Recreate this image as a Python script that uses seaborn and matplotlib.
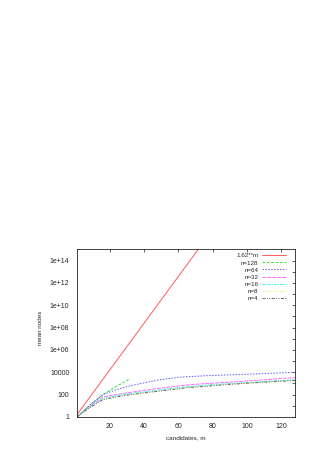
import numpy as np
import pandas as pd
import matplotlib
matplotlib.use("Agg")
import matplotlib.pyplot as plt
import matplotlib.ticker as mticker
import seaborn as sns

sns.set_style("white")
plt.rcParams['font.family'] = ['Liberation Sans', 'DejaVu Sans']

# values (mean nodes vs candidates m)
m_full = [1, 8, 16, 24, 32, 40, 48, 56, 64, 72, 80, 88, 96, 104, 112, 120, 128]
m_128 = [1, 8, 16, 24, 32]

ref_m = [1, 128]
ref_vals = [1.62, 6.6e26]          # 1.62**m at both ends (straight in log scale)

n128 = [1, 10, 100, 560, 2700]
n64 = [1, 10, 100, 280, 630, 1120, 2000, 3000, 4000, 4570, 5250, 5750, 6300, 7080, 7940, 8900, 9550]
n32 = [1, 8, 63, 100, 160, 240, 355, 500, 710, 890, 1070, 1260, 1510, 1860, 2240, 2820, 3310]
n16 = [1, 7, 45, 80, 126, 178, 250, 355, 500, 630, 790, 955, 1120, 1320, 1580, 1860, 2140]
n8 = [1, 6.3, 40, 66, 105, 150, 214, 302, 417, 537, 676, 851, 1000, 1200, 1410, 1660, 1900]
n4 = [1, 6.3, 35, 63, 100, 141, 200, 282, 398, 500, 630, 794, 955, 1150, 1350, 1580, 1820]

series = [
    ("1.62**m", ref_m, ref_vals, "#ff5a5a", "-"),
    ("n=128", m_128, n128, "#3ee03e", (0, (3, 1.5))),
    ("n=64", m_full, n64, "#5a5aff", (0, (1.5, 1.5))),
    ("n=32", m_full, n32, "#ff6aff", (0, (4, 1))),
    ("n=16", m_full, n16, "#3cf0f0", (0, (3, 1, 1, 1))),
    ("n=8", m_full, n8, "#e8e83c", (0, (1, 2))),
    ("n=4", m_full, n4, "#606060", (0, (3, 1.5, 1, 1.5, 1, 1.5))),
]

fig = plt.figure(figsize=(3.31, 4.68), dpi=100)
ax = fig.add_axes([0.2326, 0.109, 0.6586, 0.358])

for label, xs, ys, col, ls in series:
    df = pd.DataFrame({"m": xs, "nodes": ys})
    sns.lineplot(data=df, x="m", y="nodes", ax=ax, color=col, linestyle=ls,
                 linewidth=0.7, label=label)

ax.set_yscale("log")
ax.set_xlim(1, 128)
ax.set_ylim(1, 1e15)

ytick_vals = [1, 1e2, 1e4, 1e6, 1e8, 1e10, 1e12, 1e14]
ytick_labels = ["1", "100", "10000", "1e+06", "1e+08", "1e+10", "1e+12", "1e+14"]
ax.yaxis.set_major_locator(mticker.FixedLocator(ytick_vals))
ax.yaxis.set_major_formatter(mticker.FixedFormatter(ytick_labels))
ax.yaxis.set_minor_locator(mticker.FixedLocator([1e1, 1e3, 1e5, 1e7, 1e9, 1e11, 1e13]))
ax.yaxis.set_minor_formatter(mticker.NullFormatter())

ax.set_xticks([20, 40, 60, 80, 100, 120])

ax.tick_params(axis="both", which="both", direction="in", top=True, right=True,
               length=2.5, width=0.5, labelsize=5, color="#222222")
ax.tick_params(axis="y", pad=5.5)
ax.tick_params(axis="x", pad=4.0)

for s in ax.spines.values():
    s.set_linewidth(0.6)
    s.set_color("#222222")

ax.set_xlabel("candidates, m", fontsize=4.6, labelpad=4.0)
ax.set_ylabel("mean nodes", fontsize=4.5, labelpad=3.5)
ax.yaxis.set_label_coords(-0.155, 0.53)

ax.legend(loc="upper right", bbox_to_anchor=(0.957, 0.9785), frameon=False,
          fontsize=4.5, markerfirst=False, handlelength=3.7, handletextpad=0.64,
          labelspacing=0.28, borderpad=0, borderaxespad=0)

fig.savefig("out.png", dpi=100)
